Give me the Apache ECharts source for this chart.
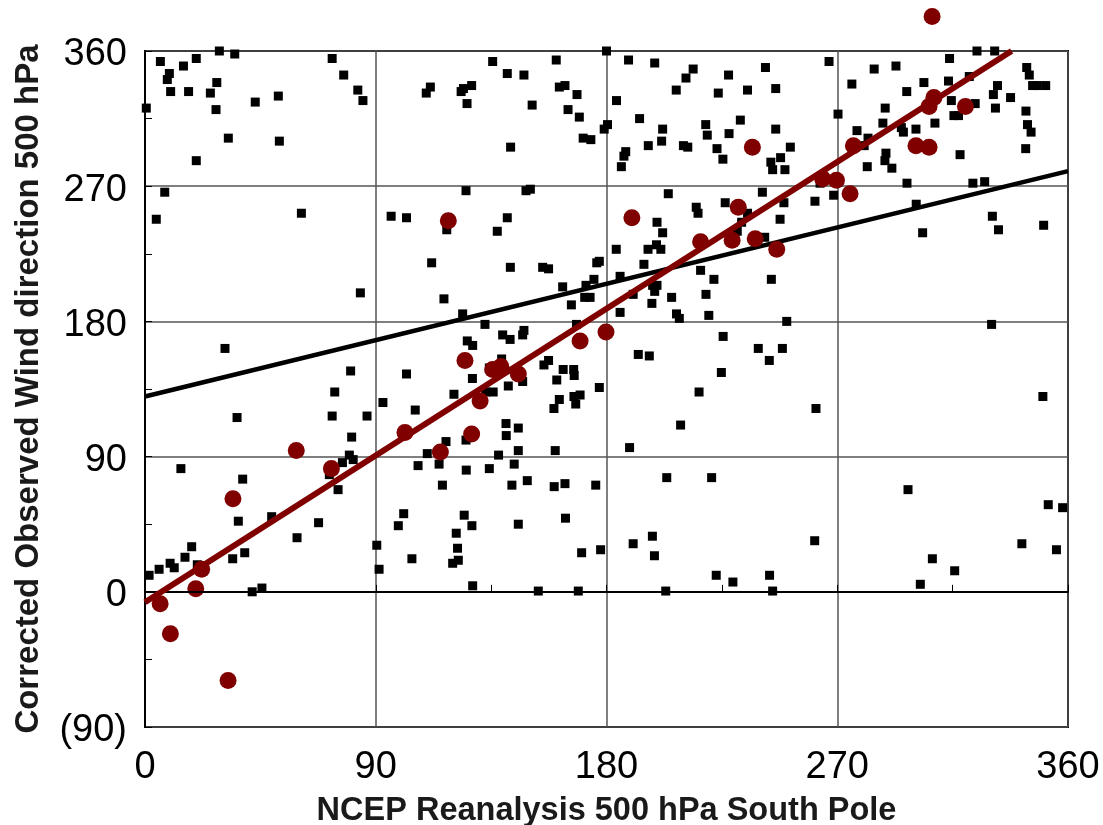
<!DOCTYPE html>
<html>
<head>
<meta charset="utf-8">
<script src="https://cdn.jsdelivr.net/npm/echarts@6/dist/echarts.min.js"></script>
<style>
  html, body { margin: 0; padding: 0; background: #fff; }
  #chart { width: 1103px; height: 825px; }
</style>
</head>
<body>
<div id="chart"></div>
<script>
// NCEP reanalysis direction (x) vs corrected observed direction (y), degrees
var allPoints = [
  [6,353],[20,355],[29,360],[35,358],[15,350],[9.5,345],[8.7,341],[28,339],[10,333],[17,333],
  [25.5,332],[0.5,322],[27.7,321],[43,326],[52,330],[32.5,302],[52.4,300],[20,287],[73,355],[77.5,344],
  [83,334],[85,327],[111.3,336],[109.7,332],[7.7,266],[4.4,248],[61,252],[96,250],[102,249],[117.7,241],
  [180,360],[135.6,353],[160.4,354],[141.3,345],[147.8,344],[127.4,337],[124.2,335],[123.3,333],[125.6,325],[151,324],
  [161.6,336],[163.8,337],[168.5,331],[165,321],[169.4,316],[142.6,296],[170.9,302],[173.9,301],[180.4,311],[179.1,308],
  [188.6,354],[198.8,352],[213.8,348],[211,342],[207.2,334],[227.6,344],[223.6,332],[235,334],[242,349],[183.9,327],
  [192.9,315],[201.9,308],[201.5,300],[196.3,297],[210,297],[211.7,296],[218.7,311],[219.3,304],[227.8,305],[232.2,314],
  [223.1,295],[225.4,288],[187.5,293],[186.8,290],[185.8,283],[125.2,267],[148.6,267],[150.3,268],[141.3,249],[137.4,240],
  [204.1,265],[215,256],[215.7,252],[199.7,246],[201.9,239],[226.3,259],[235,252],[240.8,266],[232.7,246],[231,240],
  [266.8,353],[246,335],[284.4,348],[292.9,350],[275.7,338],[313.8,355],[324.5,360],[331.4,360],[343.9,349],[344.9,344],
  [346.2,337],[348,337],[351.3,337],[332.5,337],[330.9,331],[337.6,329],[331.7,322],[343.6,320],[344.2,311],[345.6,306],
  [343.5,295],[297.1,333],[303.8,339],[313.4,340],[321.5,343],[314.5,327],[323.8,325],[315.5,317],[317.3,317],[308.1,312],
  [300.7,308],[288.7,322],[287.8,312],[295,309],[295.8,306],[277.7,307],[282,302],[280.5,297],[270.3,318],[246,308],
  [251.7,296],[247.9,289],[244.1,286],[244.8,281],[249.6,281],[289,292],[288.6,287],[291.3,282],[281.7,283],[317.9,291],
  [297.2,272],[322.9,272],[327.5,273],[300.8,258],[261.3,260],[268.6,264],[249.2,259],[247.7,248],[263.3,272],[330.5,250],
  [332.9,241],[350.5,244],[303.3,239],[241.7,236],
  [111.8,219],[84,199],[116.6,195],[31.2,162],[80.2,147],[102,145],[74,133],[92.8,126],[120.5,131.5],[35.9,116],
  [73,117],[86.6,117],[105.4,121],[80.6,103],[117.4,100],[79.7,91],[81.2,88],[77,86],[110.1,92],[106.5,84],
  [114.7,85],[14,82],[38.1,75],[71.9,78],
  [183.8,228],[196.2,228],[199.5,231],[201.2,228],[142.5,216],[155.1,216],[157.4,215],[176.2,219],[177.2,220],[194.6,218],
  [175.1,208],[185.3,210],[162.9,203],[172,204],[171.5,196],[173.6,196],[166.3,191],[190.4,198],[198,204],[199.7,204],
  [198.8,200],[197.7,192],[185.3,186],[205.4,196],[207.3,185],[208.4,182],[216.7,214],[221.9,208],[218.8,198],[219.9,184],
  [225.5,170],[239.2,162],[123.9,185],[132.6,178],[168.3,178],[125.7,167],[127.8,164],[139.5,171],[142.4,168],[147.8,174],
  [147.3,171],[192.4,158],[196.7,157],[157.4,154],[155.6,151],[163.1,148],[167.2,148],[167.4,144],[160.6,141],[139.1,155],
  [134.3,149],[127.7,142],[147.3,140],[141.7,137],[135.8,133],[132.9,133],[177.2,136],[169.7,131],[167.3,130],[168,125],
  [161.6,128],[159.5,122],[140.8,112],[145.6,109],[140.9,104],[125.2,101],[145.6,94],[160,94],[137.9,91],[125.3,81],
  [134.3,82],[144,85],[189,96],[208.9,111],[216.1,133],[224.8,146],
  [244.3,208],[250.3,180],[248.6,162],[243.5,154],[261.7,122],[330.2,178],[350.2,130],
  [75.3,68],[36.4,47],[49.4,50],[67.7,46],[59.3,36],[38.9,26],[34.2,22],[18.2,30],[15.6,23],[9.8,19],
  [11.4,16],[5.5,15],[1.6,11],[20.4,18],[41.8,0],[45.6,2.5],[90.4,31],[91.3,15],[98.8,44],[100.9,52],
  [104.1,22],[116,71],
  [143.1,71],[149.1,74],[159.6,70],[163.8,72],[175.8,71],[203.5,76],[221,76],[124.5,51],[127.5,44],[121.4,39],
  [121.9,29],[122.2,21],[120,19],[145.6,45],[164,49],[170.3,26],[177.7,28],[127.8,4],[153.4,0.5],[169,0.5],
  [190.4,32],[197.9,37],[198.7,24],[203.1,0.5],[222.8,11],[229.3,6.5],
  [297.6,68],[261.2,34],[243.6,11],[244.8,0.5],[307.1,22],[315.8,14],[302.4,5],[342,32],[352.3,58],[357.9,56],
  [355.5,28]
];

var selectedPoints = [
  [118.3,247],[189.9,249],[231.4,256],[216.7,233],[229,234],[238,235],[236.9,296],[307,383],[307.7,329],[305.8,323],
  [320,323],[276.3,297],[300.7,297],[305.8,296],[264.3,275],[269.7,274],[275,265],[59,94],[72.7,82],[101.4,106],
  [115.2,93],[246.4,228],[179.8,173],[169.7,167],[124.8,154],[138.8,150],[135.6,148],[145.6,145],[130.7,127],[127.4,105],
  [34.3,62],[22.1,15],[19.8,2],[5.9,-8],[9.9,-28],[32.4,-59]
];

// fitted lines (end points)
var allFitX = [0, 360];
var allFitY = [130, 280];
var selFitX = [0, 338];
var selFitY = [-7, 360];

var xTicks = [0, 90, 180, 270, 360];
var yTicks = [-90, 0, 90, 180, 270, 360];

function zip(a, b) {
    return a.map(function (v, i) { return [v, b[i]]; });
}

var myChart = echarts.init(document.getElementById('chart'));
var fontName = 'Liberation Sans';

var option = {
    animation: false,
    backgroundColor: '#fff',
    grid: {
        left: 145, right: 35, top: 51, bottom: 98, show: true,
        borderColor: '#000', borderWidth: 2, outerBoundsMode: 'none'
    },
    xAxis: {
        type: 'value', min: xTicks[0], max: xTicks[xTicks.length - 1], interval: 90,
        name: 'NCEP Reanalysis 500 hPa South Pole', nameLocation: 'middle', nameGap: 68,
        nameTextStyle: {fontFamily: fontName, fontWeight: 'bold', fontSize: 32.5, color: '#1a1a1a'},
        axisLine: {show: true, lineStyle: {color: '#000', width: 2}},
        axisTick: {show: true, inside: true, length: 7, lineStyle: {color: '#000'}},
        minorTick: {show: true, splitNumber: 2, length: 7, lineStyle: {color: '#000'}},
        splitLine: {show: true, lineStyle: {color: '#555', width: 1.5}},
        axisLabel: {fontFamily: fontName, fontSize: 38, color: '#000', margin: 22}
    },
    yAxis: {
        type: 'value', min: yTicks[0], max: yTicks[yTicks.length - 1], interval: 90,
        name: 'Corrected Observed Wind direction 500 hPa', nameLocation: 'middle', nameGap: 100,
        nameTextStyle: {fontFamily: fontName, fontWeight: 'bold', fontSize: 33, color: '#1a1a1a'},
        axisLine: {show: true, lineStyle: {color: '#000', width: 2}},
        axisTick: {show: true, inside: true, length: 7, lineStyle: {color: '#000'}},
        minorTick: {show: true, splitNumber: 2, length: 7, lineStyle: {color: '#000'}},
        splitLine: {show: true, lineStyle: {color: '#555', width: 1.5}},
        axisLabel: {
            margin: 18,
            formatter: function (v) { return '{t|' + (v < 0 ? '(' + (-v) + ')' : String(v)) + '}'; },
            rich: {
                t: {fontFamily: fontName, fontSize: 38, color: '#000', lineHeight: 38, padding: [8, 0, 0, 0]}
            }
        }
    },
    series: [
        {
            type: 'scatter', data: allPoints, symbol: 'rect', symbolSize: 9,
            itemStyle: {color: '#000', opacity: 1}, clip: false, z: 2,
            markLine: {
                silent: true, symbol: 'none', label: {show: false},
                lineStyle: {color: '#000', width: 2, type: 'solid'},
                data: [{yAxis: 0}]
            }
        },
        {
            type: 'line', data: zip(allFitX, allFitY), symbol: 'none',
            lineStyle: {color: '#000', width: 4.5}, z: 3
        },
        {
            type: 'scatter', data: selectedPoints, symbol: 'circle', symbolSize: 17,
            itemStyle: {color: '#800000', opacity: 1}, clip: false, z: 4
        },
        {
            type: 'line', data: zip(selFitX, selFitY), symbol: 'none',
            lineStyle: {color: '#800000', width: 6}, z: 5
        }
    ]
};
if (option && typeof option === "object") {
    myChart.setOption(option, true);
}
</script>
</body>
</html>
